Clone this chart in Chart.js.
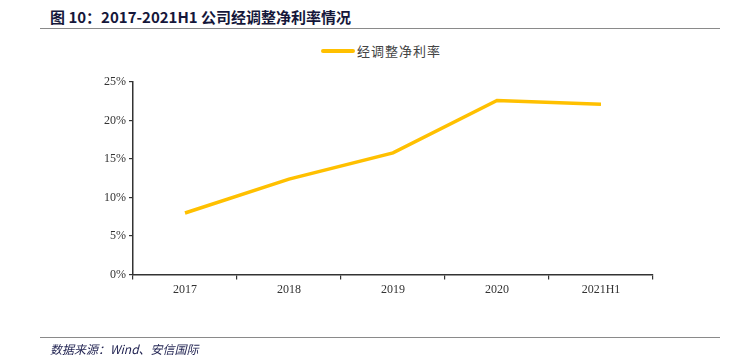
<!DOCTYPE html>
<html>
<head>
<meta charset="utf-8">
<script src="https://cdn.jsdelivr.net/npm/chart.js@4.4.0/dist/chart.umd.min.js"></script>
<style>
  body { margin: 0; background: #fff; width: 736px; height: 364px; position: relative; overflow: hidden; }
  #title { position: absolute; left: 50px; top: 6px; font: bold 15px "Noto Sans CJK SC", "Liberation Sans", sans-serif; color: #15173a; white-space: nowrap; }
  #titleLine { position: absolute; left: 40px; top: 28px; width: 680px; height: 0; border-top: 1.5px solid #8a8a8a; }
  #legend { position: absolute; left: 321px; top: 41px; font: 13px "Noto Sans CJK SC", sans-serif; color: #444; white-space: nowrap; letter-spacing: 1px; }
  #legend span { display: inline-block; width: 34px; height: 4px; background: #FFC000; border-radius: 2px; vertical-align: middle; margin-right: 2px; margin-top: -3px; }
  #footLine { position: absolute; left: 40px; top: 337px; width: 680px; height: 0; border-top: 1.5px solid #8a8a8a; }
  #foot { position: absolute; left: 50px; top: 340px; font: italic 12px "Noto Sans CJK SC", "DejaVu Sans", sans-serif; color: #1f2150; white-space: nowrap; }
  #wrap { position: absolute; left: 0; top: 0; width: 736px; height: 364px; }
</style>
</head>
<body>
<div id="title">图 10：2017-2021H1 公司经调整净利率情况</div>
<div id="titleLine"></div>
<div id="legend"><span></span>经调整净利率</div>
<div id="wrap"><canvas id="myLineChart" width="736" height="364"></canvas></div>
<div id="footLine"></div>
<div id="foot">数据来源：Wind、安信国际</div>
<script>
var categories = ['2017', '2018', '2019', '2020', '2021H1'];
var netMargin = [8.0, 12.4, 15.8, 22.6, 22.1]; // 经调整净利率 (%)
var seriesName = '经调整净利率';

var ctx = document.getElementById('myLineChart').getContext('2d');

var myLineChart = new Chart(ctx, {
    type: 'line',
    data: {
        labels: categories,
        datasets: [{
            label: seriesName,
            data: netMargin,
            borderColor: '#FFC000',
            backgroundColor: '#FFC000',
            borderWidth: 3.5,
            pointRadius: 0,
            tension: 0
        }]
    },
    options: {
        responsive: false,
        animation: false,
        layout: {
            padding: { top: 82, bottom: 64, left: 0, right: 83 }
        },
        plugins: {
            legend: { display: false },
            tooltip: { enabled: false }
        },
        scales: {
            x: {
                offset: true,
                grid: { offset: true, drawOnChartArea: false, tickLength: 5, color: '#333', lineWidth: 1.2 },
                border: { color: '#333', width: 1.5 },
                ticks: { color: '#333', font: { family: 'Liberation Serif', size: 12 }, padding: 3 }
            },
            y: {
                min: 0,
                max: 25,
                afterFit: function(scale) { scale.width = 133; },
                grid: { drawOnChartArea: false, tickLength: 4, color: '#333', lineWidth: 1.2 },
                border: { color: '#333', width: 1.5 },
                ticks: {
                    stepSize: 5,
                    color: '#333',
                    font: { family: 'Liberation Serif', size: 12 },
                    padding: 3,
                    callback: function(v) { return v + '%'; }
                }
            }
        }
    }
});
</script>
</body>
</html>
